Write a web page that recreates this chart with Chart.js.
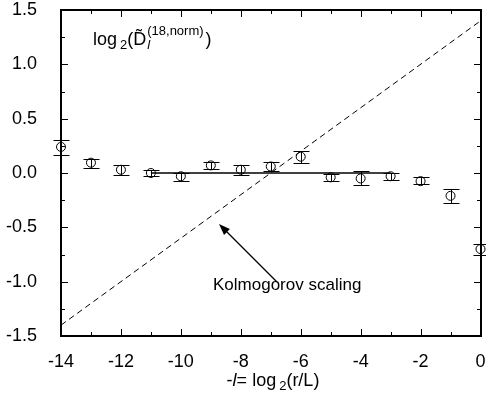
<!DOCTYPE html>
<html>
<head>
<meta charset="utf-8">
<script src="https://cdn.jsdelivr.net/npm/chart.js@4"></script>
<style>
  html, body { margin: 0; padding: 0; background: #fff; }
  #chart { display: block; }
</style>
</head>
<body>
<canvas id="chart" width="486" height="395"></canvas>
<script>
// measured points: x = -l = log2(r/L)
const xValues = [-14, -13, -12, -11, -10, -9, -8, -7, -6, -5, -4, -3, -2, -1, 0];
const yValues = [0.24, 0.095, 0.03, 0.0, -0.03, 0.07, 0.03, 0.06, 0.15, -0.04, -0.05, -0.03, -0.075, -0.21, -0.70];
const errHigh = [0.30, 0.13, 0.07, 0.03, 0.0, 0.10, 0.07, 0.10, 0.20, -0.01, 0.02, 0.0, -0.04, -0.15, -0.65];
const errLow  = [0.17, 0.05, -0.02, -0.03, -0.07, 0.04, -0.02, 0.02, 0.09, -0.07, -0.11, -0.065, -0.10, -0.28, -0.75];

// reference lines
const kolmogorovX = [-14, 0];
const kolmogorovY = [-1.4, 1.4];
const flatX = [-11, -3];
const flatY = [0, 0];

const xTicks = [-14, -12, -10, -8, -6, -4, -2, 0];
const yTicks = [-1.5, -1.0, -0.5, 0.0, 0.5, 1.0, 1.5];

const FONT = '"Liberation Sans", Arial, Helvetica, sans-serif';

function toPoints(xs, ys) {
  return xs.map((x, i) => ({ x: x, y: ys[i] }));
}

// draw a row of text pieces (for sub/superscripts)
function drawRuns(ctx, x, y, runs, measureOnly) {
  let cx = x;
  runs.forEach(r => {
    ctx.font = r.font;
    const w = ctx.measureText(r.text).width;
    if (!measureOnly) ctx.fillText(r.text, cx, y + (r.dy || 0));
    if (!r.stack) cx += w + (r.gap || 0);
  });
  return cx - x;
}

const decorations = {
  id: 'decorations',
  afterDraw(chart) {
    const { ctx } = chart;
    const x = chart.scales.x, y = chart.scales.y;
    const L = Math.round(x.getPixelForValue(-14));
    const R = Math.round(x.getPixelForValue(0)) - 1;
    const T = Math.round(y.getPixelForValue(1.5));
    const B = Math.round(y.getPixelForValue(-1.5)) - 1;
    ctx.save();
    ctx.fillStyle = '#000';
    ctx.strokeStyle = '#000';

    // frame
    ctx.fillRect(L - 1, T - 1, R - L + 3, 2);
    ctx.fillRect(L - 1, B, R - L + 3, 2);
    ctx.fillRect(L - 1, T - 1, 2, B - T + 3);
    ctx.fillRect(R, T - 1, 2, B - T + 3);

    // inward ticks on all four sides
    for (let v = -14; v <= 0; v += 1) {
      const px = Math.round(x.getPixelForValue(v));
      const len = v % 2 === 0 ? 6 : 3;
      ctx.fillRect(px, B - len, 1, len);
      ctx.fillRect(px, T + 1, 1, len);
    }
    for (let k = -6; k <= 6; k++) {
      const py = Math.round(y.getPixelForValue(k * 0.25));
      const len = k % 2 === 0 ? 6 : 3;
      ctx.fillRect(L + 1, py, len, 1);
      ctx.fillRect(R - len, py, len, 1);
    }

    // error bars
    ctx.lineWidth = 1;
    xValues.forEach((v, i) => {
      const px = Math.round(x.getPixelForValue(v)) + 0.5;
      const top = Math.round(y.getPixelForValue(errHigh[i])) + 0.5;
      const bot = Math.round(y.getPixelForValue(errLow[i])) + 0.5;
      ctx.beginPath();
      ctx.moveTo(px, top); ctx.lineTo(px, bot);
      ctx.moveTo(px - 8, top); ctx.lineTo(px + 8, top);
      ctx.moveTo(px - 8, bot); ctx.lineTo(px + 8, bot);
      ctx.stroke();
    });

    // panel label
    ctx.textBaseline = 'alphabetic';
    ctx.textAlign = 'left';
    const big = '18px ' + FONT, small = '13px ' + FONT, smallIt = 'italic 13px ' + FONT;
    drawRuns(ctx, 93, 45, [
      { text: 'log', font: big, gap: 3 },
      { text: '2', font: small, dy: 4 },
      { text: '(', font: big },
      { text: 'D\u0303', font: big, gap: 1 },
      { text: 'l', font: smallIt, dy: 4, stack: true },
      { text: '(18,norm)', font: small, dy: -10, gap: 2 },
      { text: ')', font: big }
    ]);

    // annotation with arrow
    ctx.font = '17px ' + FONT;
    ctx.fillText('Kolmogorov scaling', 213, 290);
    const tx = 277, ty = 282, hx = 219, hy = 224;
    ctx.beginPath();
    ctx.moveTo(tx, ty); ctx.lineTo(hx + 6, hy + 6);
    ctx.lineWidth = 1.3;
    ctx.stroke();
    const ang = Math.atan2(hy - ty, hx - tx);
    ctx.beginPath();
    ctx.moveTo(hx, hy);
    ctx.lineTo(hx - 12 * Math.cos(ang - 0.35), hy - 12 * Math.sin(ang - 0.35));
    ctx.lineTo(hx - 12 * Math.cos(ang + 0.35), hy - 12 * Math.sin(ang + 0.35));
    ctx.closePath();
    ctx.fill();

    // x axis title
    const titleRuns = [
      { text: '-', font: big },
      { text: 'l', font: 'italic 18px ' + FONT },
      { text: '= log', font: big, gap: 3 },
      { text: '2', font: small, dy: 4 },
      { text: '(r/L)', font: big }
    ];
    const w = drawRuns(ctx, 0, 0, titleRuns, true);
    drawRuns(ctx, 273 - w / 2, 386, titleRuns);
    ctx.restore();
  }
};

new Chart(document.getElementById('chart'), {
  type: 'scatter',
  data: {
    datasets: [
      {
        data: toPoints(kolmogorovX, kolmogorovY),
        showLine: true,
        borderColor: '#000',
        borderWidth: 1,
        borderDash: [6, 4],
        pointRadius: 0
      },
      {
        data: toPoints(flatX, flatY),
        showLine: true,
        borderColor: '#000',
        borderWidth: 1.3,
        pointRadius: 0
      },
      {
        data: toPoints(xValues, yValues),
        showLine: false,
        pointRadius: 4.5,
        pointBackgroundColor: '#fff',
        pointBorderColor: '#000',
        pointBorderWidth: 1,
        clip: false
      }
    ]
  },
  options: {
    responsive: false,
    animation: false,
    layout: { padding: { top: 10, right: 3, left: 0, bottom: 0 } },
    plugins: { legend: { display: false }, tooltip: { enabled: false } },
    scales: {
      x: {
        type: 'linear',
        min: -14,
        max: 0,
        grid: { display: false },
        border: { display: false },
        afterBuildTicks: s => { s.ticks = xTicks.map(v => ({ value: v })); },
        afterFit: s => { s.height = 59; s.paddingLeft = 0; s.paddingRight = 0; },
        ticks: {
          font: { family: FONT, size: 18 },
          color: '#000',
          padding: 7,
          maxRotation: 0,
          callback: v => String(v)
        }
      },
      y: {
        type: 'linear',
        min: -1.5,
        max: 1.5,
        grid: { display: false },
        border: { display: false },
        afterBuildTicks: s => { s.ticks = yTicks.map(v => ({ value: v })); },
        afterFit: s => { s.width = 61; s.paddingTop = 0; s.paddingBottom = 0; },
        ticks: {
          font: { family: FONT, size: 18 },
          color: '#000',
          padding: 16,
          callback: v => v.toFixed(1)
        }
      }
    }
  },
  plugins: [decorations]
});
</script>
</body>
</html>
